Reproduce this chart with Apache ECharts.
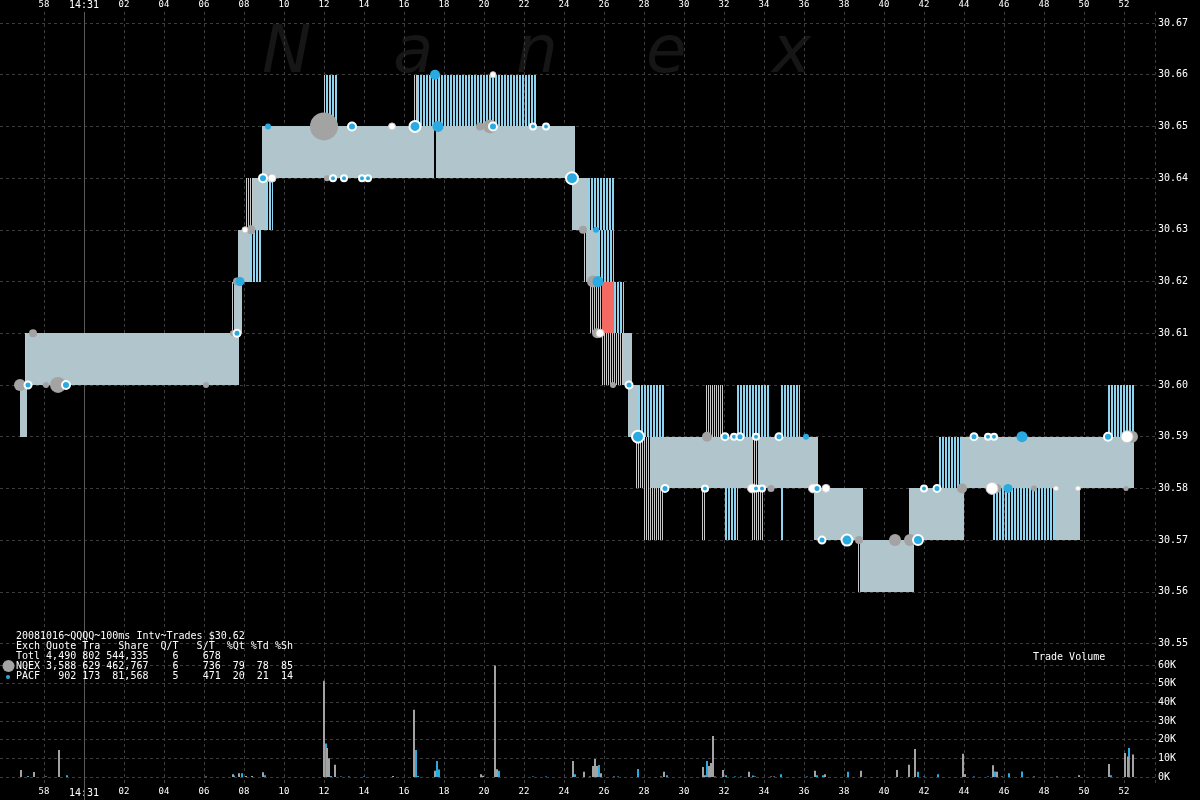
<!DOCTYPE html>
<html><head><meta charset="utf-8">
<script src="https://cdn.jsdelivr.net/npm/echarts@6/dist/echarts.min.js"></script>
<style>html,body{margin:0;padding:0;background:#000;}#c{width:1200px;height:800px;}</style>
</head><body><div id="c"></div>
<script>
// time values = seconds after 14:30:00
// spread segments: [tStart, tEnd, bid, ask]
const spreadSolid = [
  [56.8,57.15,30.59,30.60],[57.1,67.75,30.60,30.61],[67.5,67.9,30.61,30.62],
  [67.7,68.3,30.62,30.63],[68.45,69.1,30.63,30.64],[68.9,77.5,30.64,30.65],
  [77.6,84.55,30.64,30.65],[84.4,85.2,30.63,30.64],[85.1,85.7,30.62,30.63],
  [86.95,87.4,30.60,30.61],[87.2,87.7,30.59,30.60],[88.3,93.4,30.58,30.59],
  [93.7,96.7,30.58,30.59],[96.5,98.95,30.57,30.58],[98.8,101.5,30.56,30.57],
  [101.25,104.0,30.57,30.58],[108.55,109.8,30.57,30.58],[103.85,112.5,30.58,30.59]
];
const spreadBlue = [
  [68.3,68.9,30.62,30.63],[69.1,69.45,30.63,30.64],[72.1,72.65,30.65,30.66],
  [76.65,82.6,30.65,30.66],[85.2,86.5,30.63,30.64],[85.7,86.5,30.62,30.63],
  [86.5,87.0,30.61,30.62],[87.7,89.0,30.59,30.60],[92.65,94.3,30.59,30.60],
  [94.85,95.8,30.59,30.60],[92.05,92.7,30.57,30.58],[94.85,94.95,30.57,30.58],
  [105.45,108.55,30.57,30.58],[102.75,103.85,30.58,30.59],[111.2,112.5,30.59,30.60]
];
const spreadGray = [
  [57.05,57.1,30.60,30.61],[67.4,67.5,30.61,30.62],[68.1,68.45,30.63,30.64],
  [72.0,72.1,30.65,30.66],[76.5,76.65,30.65,30.66],[85.0,85.1,30.62,30.63],
  [85.3,85.9,30.61,30.62],[85.9,86.95,30.60,30.61],[91.1,91.95,30.59,30.60],
  [87.6,88.3,30.58,30.59],[93.4,93.7,30.58,30.59],[88.0,88.95,30.57,30.58],
  [90.9,91.05,30.57,30.58],[93.4,93.95,30.57,30.58],[98.7,98.8,30.56,30.57]
];
const spreadRed = [[85.9,86.5,30.61,30.62]];

// minute boundaries (seconds after 14:30:00)
const minuteMarks = [60];

// trades: [t, price, diameter]
const nqexTrades = [
  [56.8,30.60,12],[57.45,30.61,8],[58.1,30.60,6],[58.7,30.60,16],[66.1,30.60,6],
  [67.45,30.61,6],[67.65,30.62,8],[68.35,30.63,9],[69.3,30.64,8],[72.0,30.65,28],
  [72.15,30.64,6],[79.8,30.65,8],[80.3,30.65,14],[84.95,30.63,8],[85.45,30.62,12],
  [85.65,30.61,10],[86.45,30.60,6],[91.15,30.59,10],[91.05,30.58,8],[94.35,30.58,7],
  [98.75,30.57,8],[100.55,30.57,12],[101.3,30.57,12],[103.9,30.58,10],[105.65,30.58,9],
  [107.5,30.58,6],[112.4,30.59,12],[112.1,30.58,5]
];
const pacfTrades = [
  [67.8,30.62,9],[69.2,30.65,6],[77.55,30.66,10],[77.7,30.65,11],[85.6,30.63,6],
  [85.7,30.62,11],[96.1,30.59,6],[106.2,30.58,9],[106.9,30.59,11]
];
const pacfRingTrades = [
  [57.2,30.60,7],[59.1,30.60,8],[67.65,30.61,7],[68.95,30.64,8],[72.45,30.64,6],
  [73.0,30.64,6],[73.9,30.64,6],[74.2,30.64,6],[73.4,30.65,8],[76.55,30.65,11],
  [80.45,30.65,8],[82.45,30.65,6],[83.1,30.65,6],[84.4,30.64,12],[87.25,30.60,7],
  [87.7,30.59,12],[92.05,30.59,7],[92.5,30.59,6],[92.8,30.59,7],[93.6,30.59,6],
  [94.75,30.59,7],[89.05,30.58,7],[91.05,30.58,6],[93.6,30.58,6],[93.9,30.58,6],
  [96.65,30.58,7],[96.9,30.57,7],[98.15,30.57,11],[101.7,30.57,10],[102.0,30.58,6],
  [102.65,30.58,7],[104.5,30.59,7],[105.2,30.59,6],[105.5,30.59,6],[111.2,30.59,8]
];
const whiteTrades = [
  [67.7,30.61,6],[68.05,30.63,6],[69.4,30.64,8],[75.4,30.65,7],[80.45,30.66,6],
  [85.8,30.61,8],[93.4,30.58,9],[97.1,30.58,8],[96.45,30.58,9],[105.4,30.58,12],
  [108.6,30.58,5],[109.7,30.58,5],[112.15,30.59,12]
];

// volume per 100ms interval: [t, shares]
const nqexVolume = [
  [56.85,3800],[57.5,2700],[58.1,300],[58.75,14500],[66.1,300],[67.45,1500],[67.75,2000],
  [68.1,500],[68.4,500],[68.95,2500],[72.0,51000],[72.15,15500],[72.25,10000],[72.55,6500],
  [75.45,500],[76.5,36000],[77.55,3300],[79.85,1500],[79.95,700],[80.55,59700],[80.65,4200],
  [84.45,8600],[85.0,2800],[85.3,300],[85.45,5900],[85.55,9700],[85.65,5900],[85.85,2000],
  [86.5,300],[88.85,300],[89.0,2800],[90.95,5400],[91.05,1000],[91.25,5900],[91.35,7500],
  [91.45,22000],[91.55,300],[91.95,3800],[93.25,2800],[93.55,300],[94.35,300],[94.5,300],
  [96.55,3300],[97.05,1500],[98.85,3300],[100.65,3800],[101.25,6500],[101.55,15000],
  [103.95,12500],[104.05,1500],[105.45,6300],[105.65,2800],[105.9,300],[107.5,300],
  [108.65,300],[109.75,1000],[111.25,7000],[112.05,12800],[112.2,11000],[112.45,12000]
];
const pacfVolume = [
  [57.2,500],[59.15,1000],[67.5,800],[67.9,2000],[69.05,1000],[72.0,51500],[72.1,18000],
  [72.35,500],[72.85,300],[73.25,300],[74.0,300],[76.6,14500],[76.7,500],[77.65,8600],
  [77.75,4000],[80.75,3300],[82.45,300],[83.1,300],[84.55,1500],[85.75,6400],[86.7,300],
  [87.7,4300],[89.15,1000],[91.15,8600],[92.1,1000],[92.55,300],[92.85,300],[93.45,800],
  [94.85,1500],[96.15,300],[96.65,1000],[96.95,1000],[98.2,2800],[101.7,2800],[102.0,300],
  [102.7,1500],[104.5,300],[105.2,300],[105.55,3000],[106.25,2000],[106.9,3000],
  [111.35,1000],[112.25,15600]
];

const legendLines = [
  '20081016~QQQQ~100ms Intv~Trades $30.62',
  'Exch Quote Tra   Share  Q/T   S/T  %Qt %Td %Sh',
  'Totl 4,490 802 544,335    6    678',
  'NQEX 3,588 629 462,767    6    736  79  78  85',
  'PACF   902 173  81,568    5    471  20  21  14'
];
const watermark = ['N','a','n','e','x'];

const GRAY = '#a3a3a3', BLUE = '#29abe2', LBLUE = '#8fd4ee', SOLID = '#b0c5cc';

// spread band drawn as a solid block or as a comb of thin vertical lines
function spreadSeries(data, stripeColors){
  return {
    type:'custom', xAxisIndex:2, yAxisIndex:1, data:data, z:3, zlevel:1, silent:true,
    encode:{x:[0,1], y:[2,3]},
    renderItem:function(params, api){
      const a = api.coord([api.value(0), api.value(3)]);
      const b = api.coord([api.value(1), api.value(2)]);
      const x0 = Math.round(a[0]), x1 = Math.max(Math.round(b[0]), x0 + 1);
      const y0 = Math.round(a[1]), y1 = Math.round(b[1]);
      if (stripeColors.length === 1) {
        return {type:'rect', shape:{x:x0, y:y0, width:x1 - x0, height:y1 - y0}, style:{fill:stripeColors[0]}};
      }
      const children = [];
      for (let px = x0; px < x1; px++) {
        const col = stripeColors[(px - x0) % stripeColors.length];
        if (!col) continue;
        children.push({type:'rect', shape:{x:px, y:y0, width:1, height:y1 - y0}, style:{fill:col}});
      }
      return {type:'group', children:children};
    }
  };
}

const MONO = 'DejaVu Sans Mono';
const XMIN_FRAME = 56, XMIN = 55.8, XMAX = 113.55;
const dash = {color:'#3c3c3c', type:[3,3], width:1};
function tlabel(v){
  v = Math.round(v);
  if (v === 56) return '';
  if (v === 60) return '{b|14:31}';
  const s = v % 60; return '{a|' + (s < 10 ? '0' : '') + s + '}';
}
const labelRich = {
  a:{fontSize:9, fontFamily:MONO, color:'#fff', height:12, verticalAlign:'middle'},
  b:{fontSize:10, fontFamily:MONO, color:'#fff', height:12, verticalAlign:'middle', padding:[1,0,0,0]}
};

const chart = echarts.init(document.getElementById('c'), null, {renderer:'canvas'});
const graphics = [];
const wmX = [262, 393, 516, 646, 772];
watermark.forEach((ch,i)=>{
  graphics.push({type:'text', x:wmX[i], y:22, z:0, silent:true,
    style:{text:ch, font:'italic 66px "DejaVu Sans"', fill:'#161616', textVerticalAlign:'top'}});
});
graphics.push({type:'text', left:16, top:631, z:10,
  style:{text:legendLines.join('\n'), font:'10px "DejaVu Sans Mono"', fill:'#fff', lineHeight:10}});
graphics.push({type:'circle', shape:{cx:8.5, cy:666, r:6}, style:{fill:GRAY}, z:10});
graphics.push({type:'circle', shape:{cx:8, cy:677, r:2}, style:{fill:BLUE}, z:10});
graphics.push({type:'text', left:1033, top:652, z:10,
  style:{text:'Trade Volume', font:'10px "DejaVu Sans Mono"', fill:'#fff'}});

chart.setOption({
  backgroundColor:'#000',
  animation:false,
  graphic:graphics,
  grid:[
    {left:4, right:45, top:12, bottom:17},
    {left:0, right:45, top:23, height:620.5},
    {left:0, right:45, top:665, height:112}
  ],
  xAxis:[
    {gridIndex:0, type:'value', position:'top', min:XMIN_FRAME, max:XMAX, interval:2,
     axisLine:{show:false}, axisTick:{show:false},
     splitLine:{show:true, showMinLine:false, lineStyle:dash},
     axisLabel:{margin:1, formatter:tlabel, rich:labelRich, showMaxLabel:false}},
    {gridIndex:0, type:'value', position:'bottom', min:XMIN_FRAME, max:XMAX, interval:2,
     axisLine:{show:false}, axisTick:{show:false}, splitLine:{show:false},
     axisLabel:{margin:3, formatter:tlabel, rich:labelRich, showMaxLabel:false}},
    {gridIndex:1, type:'value', min:XMIN, max:XMAX, show:false},
    {gridIndex:2, type:'value', min:XMIN, max:XMAX, show:false}
  ],
  yAxis:[
    {gridIndex:0, type:'value', show:false, min:0, max:1},
    {gridIndex:1, type:'value', position:'right', min:30.55, max:30.67, interval:0.01,
     axisLine:{show:false}, axisTick:{show:false},
     splitLine:{show:true, lineStyle:dash},
     axisLabel:{color:'#fff', fontSize:10, fontFamily:MONO, margin:3, formatter:v=>v.toFixed(2)}},
    {gridIndex:2, type:'value', position:'right', min:0, max:60000, interval:10000,
     axisLine:{show:false}, axisTick:{show:false},
     splitLine:{show:true, lineStyle:dash},
     axisLabel:{color:'#fff', fontSize:10, fontFamily:MONO, margin:3, formatter:v=>(v/1000)+'K'}}
  ],
  series:[
    {type:'custom', xAxisIndex:0, yAxisIndex:0, data:minuteMarks.map(m=>[m]), z:1, zlevel:0, silent:true,
     encode:{x:0},
     renderItem:function(params, api){
       const top = api.coord([api.value(0), 1]);
       const x = Math.round(top[0]) + 0.5;
       return {type:'line', shape:{x1:x, y1:top[1], x2:x, y2:800}, style:{stroke:'#5a5a5a', lineWidth:1}};
     }},
    spreadSeries(spreadSolid, [SOLID]),
    spreadSeries(spreadBlue, [LBLUE, LBLUE, null]),
    spreadSeries(spreadGray, ['#c8c8c8', null]),
    spreadSeries(spreadRed, ['#f46a62']),
    {type:'scatter', name:'NQEX', xAxisIndex:2, yAxisIndex:1, data:nqexTrades, z:5, zlevel:1,
     symbolSize:v=>v[2], itemStyle:{color:GRAY, opacity:1}},
    {type:'scatter', name:'white', xAxisIndex:2, yAxisIndex:1, data:whiteTrades, z:6, zlevel:1,
     symbolSize:v=>v[2], itemStyle:{color:'#fff', borderColor:'#ccc', borderWidth:1, opacity:1}},
    {type:'scatter', name:'PACF', xAxisIndex:2, yAxisIndex:1, data:pacfTrades, z:7, zlevel:1,
     symbolSize:v=>v[2], itemStyle:{color:BLUE, opacity:1}},
    {type:'scatter', name:'PACFring', xAxisIndex:2, yAxisIndex:1, data:pacfRingTrades, z:7, zlevel:1,
     symbolSize:v=>v[2], itemStyle:{color:BLUE, borderColor:'#fff', borderWidth:2, opacity:1}},
    {type:'bar', name:'PACF vol', xAxisIndex:3, yAxisIndex:2, data:pacfVolume, barWidth:2, barGap:'-100%',
     itemStyle:{color:BLUE}, z:3},
    {type:'bar', name:'NQEX vol', xAxisIndex:3, yAxisIndex:2, data:nqexVolume, barWidth:2, barGap:'-100%',
     itemStyle:{color:GRAY}, z:4}
  ]
});
</script>
</body></html>
